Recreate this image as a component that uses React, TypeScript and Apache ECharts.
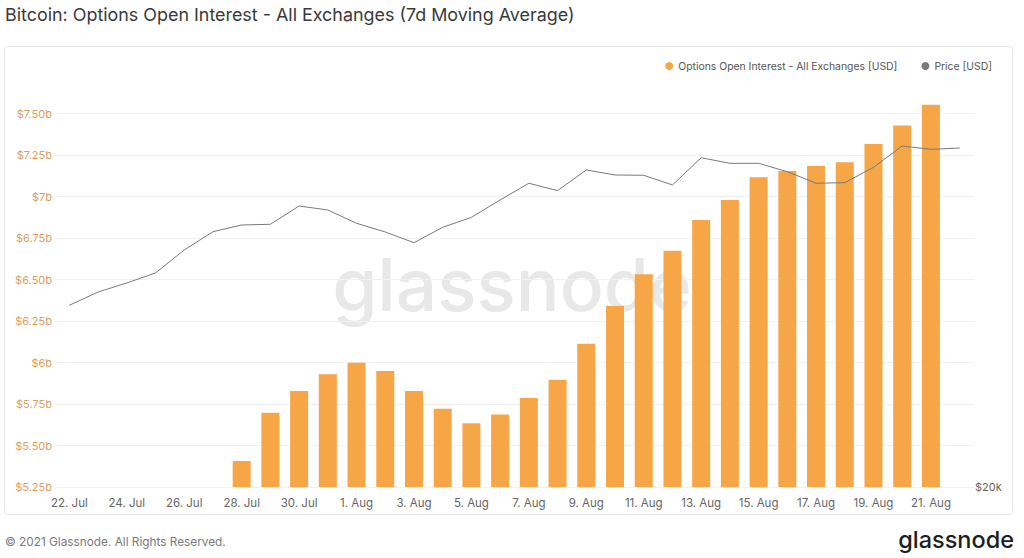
import React, { useEffect, useRef } from "react";
import * as echarts from "echarts";

const dates: string[] = [
  "22. Jul", "23. Jul", "24. Jul", "25. Jul", "26. Jul", "27. Jul", "28. Jul", "29. Jul", "30. Jul", "31. Jul",
  "1. Aug", "2. Aug", "3. Aug", "4. Aug", "5. Aug", "6. Aug", "7. Aug", "8. Aug", "9. Aug", "10. Aug",
  "11. Aug", "12. Aug", "13. Aug", "14. Aug", "15. Aug", "16. Aug", "17. Aug", "18. Aug", "19. Aug", "20. Aug",
  "21. Aug", "22. Aug",
];

// Options open interest, billions USD (7d MA)
const openInterest: (number | null)[] = [
  null, null, null, null, null, null, 5.407, 5.698, 5.828, 5.929,
  5.999, 5.949, 5.828, 5.722, 5.634, 5.686, 5.786, 5.896, 6.113, 6.34,
  6.531, 6.673, 6.858, 6.979, 7.116, 7.154, 7.184, 7.206, 7.316, 7.427,
  7.553, null,
];

// BTC price, USD
const price: number[] = [
  32675, 33868, 34702, 35654, 37938, 39860, 40588, 40666, 42726, 42266,
  40776, 39828, 38692, 40338, 41442, 43428, 45432, 44532, 47092, 46458,
  46420, 45220, 48676, 47948, 47948, 46874, 45432, 45504, 47434, 50242,
  49796, 49970,
];

const leftTicks: number[] = [5.25, 5.5, 5.75, 6, 6.25, 6.5, 6.75, 7, 7.25, 7.5];
const leftTickLabels: string[] = ["$5.25b", "$5.50b", "$5.75b", "$6b", "$6.25b", "$6.50b", "$6.75b", "$7b", "$7.25b", "$7.50b"];
const rightTickLabel = "$20k";

const FONT = "Inter, 'Noto Sans', sans-serif";
const ORANGE = "#f7a647";
const GREY = "#7a7a7a";

export default function App() {
  const ref = useRef<HTMLDivElement>(null);
  useEffect(() => {
    if (!ref.current) return;
    const chart = echarts.init(ref.current, undefined, { renderer: "svg" });
    chart.setOption({
      animation: false,
      backgroundColor: "#ffffff",
      textStyle: { fontFamily: FONT },
      graphic: [
        {
          type: "rect",
          shape: { x: 4.5, y: 46.5, width: 1008, height: 468, r: 3 },
          style: { fill: "#fff", stroke: "#e8e8e8", lineWidth: 1 },
          z: -10,
          silent: true,
        },
        {
          type: "text",
          left: 5,
          top: 5,
          style: {
            text: "Bitcoin: Options Open Interest - All Exchanges (7d Moving Average)",
            fill: "#3a3a3a",
            font: `17.9px ${FONT}`,
          },
        },
        {
          type: "text",
          x: 512,
          y: 284,
          style: {
            text: "glassnode",
            fill: "#e8e8e8",
            font: `500 73px ${FONT}`,
            align: "center",
            verticalAlign: "middle",
          },
          z: -5,
          silent: true,
        },
        {
          type: "text",
          left: 5,
          top: 536,
          style: {
            text: "© 2021 Glassnode. All Rights Reserved.",
            fill: "#7a7a7a",
            font: `11.8px ${FONT}`,
          },
        },
        {
          type: "text",
          right: 10,
          top: 527,
          style: {
            text: "glassnode",
            fill: "#1e1e1e",
            font: `500 23.5px ${FONT}`,
          },
        },
      ],
      legend: {
        right: 27,
        top: 56,
        itemWidth: 8,
        itemHeight: 8,
        itemGap: 24,
        icon: "circle",
        textStyle: { color: "#555", fontSize: 10.4, fontFamily: FONT },
        data: [
          { name: "Options Open Interest - All Exchanges [USD]", itemStyle: { color: ORANGE } },
          { name: "Price [USD]", itemStyle: { color: GREY } },
        ],
      },
      grid: { left: 55, right: 50, top: 80.3, bottom: 71 },
      xAxis: {
        type: "category",
        data: dates,
        boundaryGap: true,
        axisLine: { show: false },
        axisTick: { show: false },
        axisLabel: {
          interval: 1,
          color: "#666",
          fontSize: 11.5,
          margin: 10,
          fontFamily: FONT,
        },
      },
      yAxis: [
        {
          type: "value",
          min: 5.25,
          max: 7.7,
          interval: 0.25,
          axisLine: { show: false },
          axisTick: { show: false },
          splitLine: { show: true, showMaxLine: false, lineStyle: { color: "#f1f1f1", width: 1 } },
          axisLabel: {
            showMaxLabel: false,
            margin: 3,
            color: "#dba05e",
            fontSize: 11,
            fontFamily: FONT,
            verticalAlign: "middle",
            padding: [0, 0, 9, 0],
            formatter: (v: number) => {
              const i = leftTicks.findIndex((t) => Math.abs(t - v) < 1e-6);
              return i >= 0 ? leftTickLabels[i] : "";
            },
          },
        },
        {
          type: "log",
          min: 20000,
          max: 60000,
          logBase: 10,
          position: "right",
          axisLine: { show: false },
          axisTick: { show: false },
          splitLine: { show: false },
          axisLabel: {
            margin: 1,
            color: "#666",
            fontSize: 11,
            fontFamily: FONT,
            verticalAlign: "middle",
            padding: [0, 0, 9, 0],
            formatter: (v: number) => (Math.abs(v - 20000) < 1 ? rightTickLabel : ""),
          },
        },
      ],
      series: [
        {
          name: "Options Open Interest - All Exchanges [USD]",
          type: "bar",
          yAxisIndex: 0,
          data: openInterest,
          barWidth: 18,
          itemStyle: { color: ORANGE },
          z: 2,
        },
        {
          name: "Price [USD]",
          type: "line",
          yAxisIndex: 1,
          data: price,
          symbol: "none",
          lineStyle: { color: GREY, width: 1 },
          z: 3,
        },
      ],
    });
    return () => chart.dispose();
  }, []);
  return (
    <div
      ref={ref}
      style={{ position: "fixed", left: 0, top: 0, width: 1024, height: 558, background: "#fff" }}
    />
  );
}
